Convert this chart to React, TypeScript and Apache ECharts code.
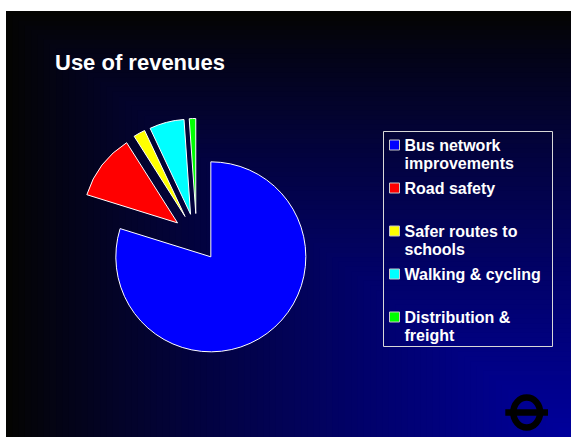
import React, { useEffect, useRef } from 'react';
import * as echarts from 'echarts';

const categories = [
  'Bus network improvements',
  'Road safety',
  'Safer routes to schools',
  'Walking & cycling',
  'Distribution & freight',
];
const legendLabels = [
  ' \nBus network\nimprovements',
  ' \nRoad safety\n ',
  ' \nSafer routes to\nschools',
  ' \nWalking & cycling\n ',
  ' \nDistribution &\nfreight',
];
const values = [79.8, 11.2, 2.0, 5.9, 1.1];
const sliceColors = ['#0000ff', '#ff0000', '#ffff00', '#00ffff', '#00ff00'];
const titleText = 'Use of revenues';

function buildBackground() {
  const x0 = 6, y0 = 11, xR = 571, yB = 437;
  const W = xR - x0, H = yB - y0;
  const N = 90;
  const els: any[] = [];
  for (let k = 0; k < N; k++) {
    const T = 1 - k / N;
    const lin = Math.min(1, Math.max(0, 1 - T + 0.5 / N));
    const intensity = Math.pow(lin, 0.85);
    const b = Math.round(156 * intensity);
    const g = Math.round(4 * (1 - intensity));
    els.push({
      type: 'rect',
      silent: true,
      z: 0,
      shape: { x: xR - T * W, y: yB - T * H, width: T * W, height: T * H },
      style: { fill: `rgb(${g},${g},${b})` },
    });
  }
  return els;
}

export default function App() {
  const ref = useRef<HTMLDivElement>(null);
  useEffect(() => {
    if (!ref.current) return;
    const chart = echarts.init(ref.current, undefined, { renderer: 'svg' });
    const graphics = buildBackground();
    // legend frame
    graphics.push({
      type: 'rect',
      silent: true,
      z: 1,
      shape: { x: 383.5, y: 131.5, width: 169, height: 215 },
      style: { fill: 'none', stroke: '#d8d8d8', lineWidth: 1 },
    });
    // roundel logo
    graphics.push({
      type: 'ellipse',
      silent: true,
      z: 1,
      shape: { cx: 526.7, cy: 412.5, rx: 13.35, ry: 15 },
      style: { fill: 'none', stroke: '#000', lineWidth: 6.5 },
    });
    graphics.push({
      type: 'rect',
      silent: true,
      z: 1,
      shape: { x: 505.3, y: 409.3, width: 42.7, height: 6.4 },
      style: { fill: '#000' },
    });
    chart.setOption({
      animation: false,
      backgroundColor: 'transparent',
      graphic: { elements: graphics },
      title: {
        text: titleText,
        left: 55,
        top: 51,
        padding: 0,
        textStyle: {
          color: '#ffffff',
          fontFamily: 'Liberation Sans',
          fontWeight: 'bold',
          fontSize: 22,
        },
      },
      legend: {
        orient: 'vertical',
        left: 389,
        top: 117.25,
        padding: 0,
        itemGap: -12.5,
        itemWidth: 10,
        itemHeight: 10,
        icon: 'rect',
        itemStyle: { borderColor: '#c8c8c8', borderWidth: 1 },
        textStyle: {
          color: '#ffffff',
          fontFamily: 'Liberation Sans',
          fontWeight: 'bold',
          fontSize: 16,
          lineHeight: 18.5,
        },
        formatter: (name: string) => legendLabels[categories.indexOf(name)],
        data: categories,
      },
      series: [
        {
          type: 'pie',
          center: [196.6, 237.5],
          radius: 95,
          startAngle: 90,
          clockwise: true,
          selectedMode: 'multiple',
          selectedOffset: 24,
          avoidLabelOverlap: false,
          label: { show: false },
          labelLine: { show: false },
          emphasis: { disabled: true },
          itemStyle: { borderColor: '#ffffff', borderWidth: 1 },
          data: categories.map((name, i) => ({
            name,
            value: values[i],
            selected: true,
            itemStyle: { color: sliceColors[i] },
          })),
        },
      ],
    });
    return () => chart.dispose();
  }, []);
  return (
    <div
      ref={ref}
      style={{ position: 'fixed', left: 0, top: 0, width: 571, height: 437, background: '#ffffff' }}
    />
  );
}
